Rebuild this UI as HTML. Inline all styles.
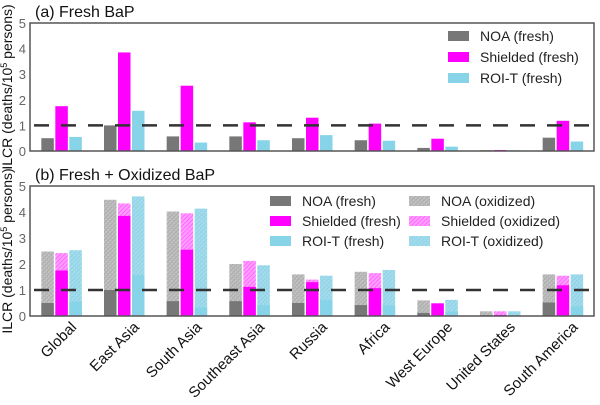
<!DOCTYPE html>
<html><head><meta charset="utf-8"><style>
body{margin:0;background:#fff;}
svg text{font-family:"Liberation Sans",sans-serif;}
</style></head><body>
<svg id="chart" width="600" height="400" viewBox="0 0 600 400">
<defs>
<pattern id="hg" width="3" height="3" patternUnits="userSpaceOnUse" patternTransform="rotate(45)"><rect width="3" height="3" fill="#c4c4c4"/><rect width="1" height="3" fill="#a8a8a8"/><rect width="3" height="1" fill="#b4b4b4"/></pattern>
<pattern id="hm" width="3" height="3" patternUnits="userSpaceOnUse" patternTransform="rotate(45)"><rect width="3" height="3" fill="#ff9eff"/><rect width="1" height="3" fill="#ff66ff"/></pattern>
<pattern id="hc" width="3" height="3" patternUnits="userSpaceOnUse" patternTransform="rotate(45)"><rect width="3" height="3" fill="#a6deee"/><rect width="1" height="3" fill="#8ad0e4"/><rect width="3" height="1" fill="#98d6e8"/></pattern>
</defs>
<g id="pa"></g>
<g id="pb"></g>
</svg>
<script>
const regions=["Global","East Asia","South Asia","Southeast Asia","Russia","Africa","West Europe","United States","South America"];
const noaFresh=[0.5,1.0,0.57,0.57,0.5,0.42,0.12,0.03,0.52];
const shieldedFresh=[1.75,3.85,2.55,1.12,1.3,1.07,0.48,0.04,1.18];
const roiFresh=[0.55,1.57,0.33,0.42,0.62,0.4,0.17,0.03,0.37];
const noaTotal=[2.48,4.47,4.02,2.0,1.6,1.7,0.6,0.18,1.6];
const shieldedTotal=[2.42,4.33,3.95,2.12,1.4,1.65,0.5,0.18,1.55];
const roiTotal=[2.53,4.6,4.13,1.95,1.55,1.77,0.62,0.18,1.6];
const yTicks=[0,1,2,3,4,5];
const threshold=1;

const NS="http://www.w3.org/2000/svg";
function mk(p,t,a,txt){const e=document.createElementNS(NS,t);for(const k in a)e.setAttribute(k,a[k]);if(txt!==undefined)e.textContent=txt;p.appendChild(e);return e;}
const X0=30,X1=594,gw=(X1-X0)/regions.length;
const xc=i=>X0+gw*(i+0.5);
const cols=["#777777","#ff00ff","#87d3e8"],pats=["url(#hg)","url(#hm)","url(#hc)"];

function panel(g,top,bottom,title,withOx,pfx){
  const y=v=>bottom-(bottom-top)*v/5;
  let t=mk(g,'text',{x:35,y:top-6,'font-size':16,fill:'#111'},title);
  
  yTicks.forEach(v=>{
    let tl=mk(g,'text',{x:X0-4,y:y(v)+5,'font-size':13,fill:'#666','text-anchor':'end'},v);
    
  });
  let yl=mk(g,'text',{transform:`translate(12,${(top+bottom)/2}) rotate(-90)`,'font-size':14,fill:'#111','text-anchor':'middle'});
  
  yl.innerHTML='ILCR (deaths/10<tspan dy="-5" font-size="9">5</tspan><tspan dy="5"> persons)</tspan>';
  const fr=[noaFresh,shieldedFresh,roiFresh],to=[noaTotal,shieldedTotal,roiTotal],nm=['noa','shielded','roi-t'];
  regions.forEach((r,i)=>{
    for(let s=0;s<3;s++){
      const bx=xc(i)-20+s*14;
      if(withOx){
        let b=mk(g,'rect',{x:bx,y:y(to[s][i]),width:12.5,height:bottom-y(to[s][i]),fill:pats[s]});
        
      }
      let b=mk(g,'rect',{x:bx,y:y(fr[s][i]),width:12.5,height:bottom-y(fr[s][i]),fill:cols[s]});
      
    }
  });
  let d=mk(g,'line',{x1:X0,x2:X1,y1:y(threshold),y2:y(threshold),stroke:'#333','stroke-width':2.5,'stroke-dasharray':'15,12','stroke-dashoffset':'-4'});
  
  let f=mk(g,'rect',{x:X0,y:top,width:X1-X0,height:bottom-top,fill:'none',stroke:'#555','stroke-width':1.5});
  
}
const pa=document.getElementById('pa'),pb=document.getElementById('pb');
panel(pa,23,151,'(a) Fresh BaP',false,'a');
panel(pb,186,316,'(b) Fresh + Oxidized BaP',true,'b');
regions.forEach((r,i)=>{
  let t=mk(pb,'text',{transform:`translate(${xc(i)+16},328) rotate(-45)`,'font-size':15,fill:'#111','text-anchor':'end'},r);
  
});
function leg(g,x,yy,fill,label){
  let s=mk(g,'rect',{x:x,y:yy-5,width:21,height:10,fill:fill});
  
  let t=mk(g,'text',{x:x+32,y:yy+5,'font-size':14,fill:'#222'},label);
  
}
leg(pa,448,36,cols[0],'NOA (fresh)');leg(pa,448,57,cols[1],'Shielded (fresh)');leg(pa,448,78,cols[2],'ROI-T (fresh)');
leg(pb,270,201,cols[0],'NOA (fresh)');leg(pb,270,221,cols[1],'Shielded (fresh)');leg(pb,270,241,cols[2],'ROI-T (fresh)');
leg(pb,409,201,pats[0],'NOA (oxidized)');leg(pb,409,221,pats[1],'Shielded (oxidized)');leg(pb,409,241,pats[2],'ROI-T (oxidized)');
</script>
</body></html>
